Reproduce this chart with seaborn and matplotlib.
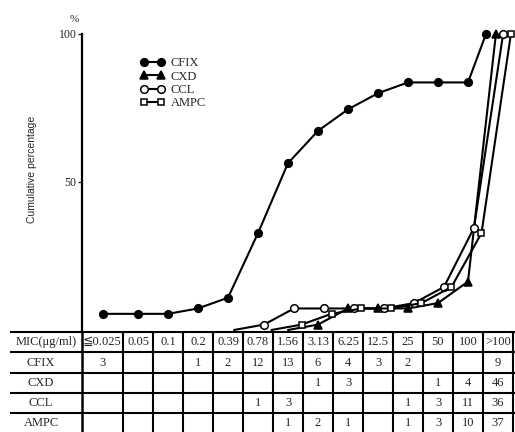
import numpy as np
import pandas as pd
import matplotlib
matplotlib.use("Agg")
import matplotlib.pyplot as plt
from matplotlib.lines import Line2D
import seaborn as sns

# MIC classes (µg/ml) and number of strains inhibited at each class
mic_labels = ["≦0.025", "0.05", "0.1", "0.2", "0.39", "0.78", "1.56", "3.13",
              "6.25", "12.5", "25", "50", "100", ">100"]
drugs = ["CFIX", "CXD", "CCL", "AMPC"]
cfix_counts = [3, 0, 0, 1, 2, 12, 13, 6, 4, 3, 2, 0, 0, 9]
cxd_counts = [0, 0, 0, 0, 0, 0, 0, 1, 3, 0, 0, 1, 4, 46]
ccl_counts = [0, 0, 0, 0, 0, 1, 3, 0, 0, 0, 1, 3, 11, 36]
ampc_counts = [0, 0, 0, 0, 0, 0, 1, 2, 1, 0, 1, 3, 10, 37]
counts = {"CFIX": cfix_counts, "CXD": cxd_counts, "CCL": ccl_counts, "AMPC": ampc_counts}

sns.set_style("white")
serif = ["Liberation Serif", "DejaVu Serif", "DejaVu Sans"]
plt.rcParams["font.family"] = serif

W, H = 515, 432
fig = plt.figure(figsize=(W / 100, H / 100), dpi=100)

# column geometry (in column units: regular column = 1, first one wider)
first_w = 41 / 30
edges = np.concatenate([[0.0], first_w + np.arange(len(mic_labels))])
centers = (edges[:-1] + edges[1:]) / 2
x_left = -82 / 30
x_right = (W - 82) / 30

# ---- cumulative curve panel ----
ax = fig.add_axes([82 / W, 100 / H, (W - 82) / W, 298 / H])
ax.set_xlim(0, x_right)
ax.set_ylim(-0.68, 100)

styles = {
    "CFIX": dict(marker="o", markerfacecolor="black", markersize=5.5),
    "CXD": dict(marker="^", markerfacecolor="black", markersize=5.5),
    "CCL": dict(marker="o", markerfacecolor="white", markersize=5.5),
    "AMPC": dict(marker="s", markerfacecolor="white", markersize=5),
}
dodge = {"CFIX": 0.0, "CXD": 0.0, "CCL": 0.2, "AMPC": 0.45}
last_dodge = {"CFIX": -0.4, "CXD": -0.07, "CCL": 0.17, "AMPC": 0.43}

for name in drugs:
    c = np.asarray(counts[name], dtype=float)
    cum = np.cumsum(c) / c.sum() * 100
    first = int(np.nonzero(c)[0][0])
    start = max(first - 1, 0)
    xs = centers.copy() + dodge[name]
    xs[-1] = centers[-1] + last_dodge[name]
    df = pd.DataFrame({"x": xs[start:], "y": cum[start:]})
    mark = [i for i, v in enumerate(df["y"]) if v > 0]
    sns.lineplot(data=df, x="x", y="y", ax=ax, color="black", lw=1.5,
                 markeredgecolor="black", markeredgewidth=1.1,
                 markevery=mark, errorbar=None, clip_on=False,
                 zorder=3, **styles[name])

for s in ["top", "right", "bottom"]:
    ax.spines[s].set_visible(False)
ax.spines["left"].set_linewidth(1.6)
ax.spines["left"].set_color("black")
ax.set_xticks([])
ax.set_yticks([50, 100])
ax.set_yticklabels(["50", "100"], fontsize=8.5, family=serif)
ax.tick_params(axis="y", direction="out", length=3, width=1, pad=1, left=True)
ax.set_xlabel("")
ax.set_ylabel("Cumulative percentage", family=["Liberation Sans", "DejaVu Sans"],
              fontsize=7.5)
ax.yaxis.set_label_coords((37 - 82) / (W - 82), 0.545)
ax.text((74 - 82) / (W - 82), 1.047, "%", transform=ax.transAxes,
        ha="center", va="center", fontsize=8, family=serif)

handles = [Line2D([0], [0], color="black", lw=1.5, markeredgecolor="black",
                  markeredgewidth=1.1, **styles[n]) for n in drugs]
ax.legend(handles, drugs, loc="upper left", bbox_to_anchor=(140 / W, 1 - 57 / H),
          bbox_transform=fig.transFigure, frameon=False, numpoints=2,
          handlelength=2.0, handletextpad=0.45, labelspacing=0.12,
          borderpad=0, borderaxespad=0, prop={"family": serif, "size": 9})

# ---- MIC table ----
axt = fig.add_axes([0, 0, 1, 100 / H])
axt.set_xlim(x_left, x_right)
axt.set_ylim(100, 0)
axt.axis("off")
row_lines = [0, 20, 41, 61, 81]
axt.hlines(row_lines, (10 - 82) / 30, x_right, color="black", lw=1.5, clip_on=False)
axt.vlines(edges[1:], 0, 100, color="black", lw=1.5, clip_on=False)
axt.vlines([0], 0, 100, color="black", lw=1.8, clip_on=False)

row_mid = [10, 30.5, 51, 71, 91]
label_x = (41 - 82) / 30
axt.text((46 - 82) / 30, row_mid[0], "MIC(μg/ml)", ha="center", va="center",
         fontsize=9, family=serif)
for j, lab in enumerate(mic_labels):
    axt.text(centers[j], row_mid[0], lab, ha="center", va="center",
             fontsize=9, family=serif)
for i, name in enumerate(drugs):
    axt.text(label_x, row_mid[i + 1], name, ha="center", va="center",
             fontsize=9, family=serif)
    for j, v in enumerate(counts[name]):
        if v:
            axt.text(centers[j], row_mid[i + 1], str(v), ha="center",
                     va="center", fontsize=9, family=serif)

fig.savefig("out.png", dpi=100)
